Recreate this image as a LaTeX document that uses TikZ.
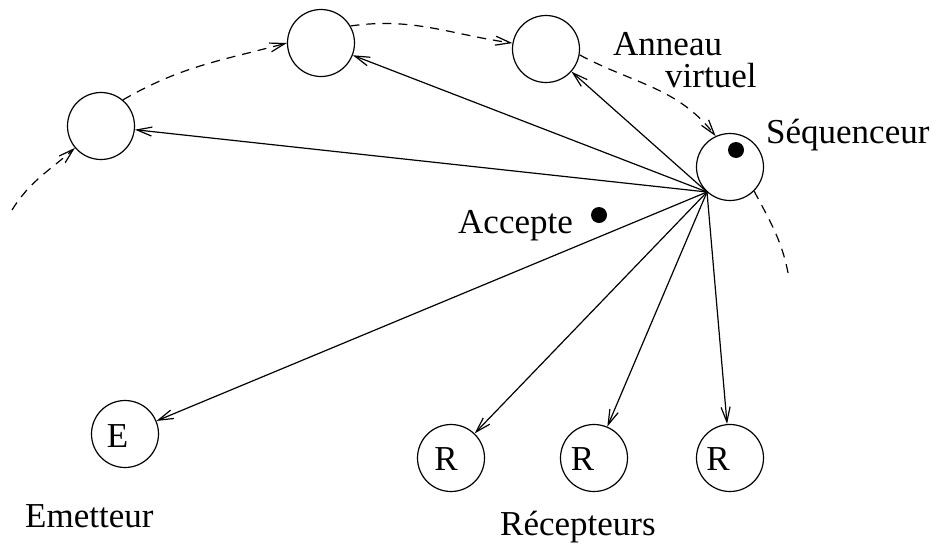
\documentclass[tikz,border=0pt]{standalone}
\usepackage{fontspec}
\setmainfont{Liberation Serif}
\usetikzlibrary{arrows.meta}
\begin{document}
\begin{tikzpicture}[x=1pt,y=1pt,
  site/.style={draw, circle, line width=1.2pt, minimum size=67pt, inner sep=0pt},
  lbl/.style={inner sep=0pt, anchor=base west, font=\fontsize{35}{37}\selectfont},
  letter/.style={inner sep=0pt, anchor=center, font=\fontsize{35}{37}\selectfont},
  tip/.style={-{Straight Barb[length=15pt,width=9pt,line width=1.2pt]}},
  msg/.style={tip, line width=1.2pt},
  ring/.style={tip, line width=1.2pt, dash pattern=on 9pt off 7pt},
  dot/.style={fill, circle, inner sep=0pt, minimum size=16pt}]
\useasboundingbox (0,0) rectangle (938,-544);

% ring members and sequencer
\node[site] (c1) at (101,-126) {};
\node[site] (c2) at (321,-43) {};
\node[site] (c3) at (546,-49) {};
\node[site] (seq) at (730,-167) {};
\node[dot] (seqdot) at (736,-150) {};

% emitter and receivers
\node[site] (em) at (125,-434) {};
\node[site] (r1) at (451,-458) {};
\node[site] (r2) at (594,-458) {};
\node[site] (r3) at (730,-458) {};
\node[letter] (emL) at (117.5,-436) {E};
\node[letter] (r1L) at (446,-459) {R};
\node[letter] (r2L) at (582.5,-459) {R};
\node[letter] (r3L) at (718,-459) {R};

% labels
\node[lbl] (emT) at (25,-527) {Emetteur};
\node[lbl] (rcT) at (500,-535) {Récepteurs};
\node[lbl] (acT) at (458,-233) {Accepte};
\node[dot] (acdot) at (599,-215) {};
\node[lbl] (anT) at (613,-55) {Anneau};
\node[lbl] (viT) at (665,-87) {virtuel};
\node[lbl] (sqT) at (766,-143) {Séquenceur};

% virtual ring (dashed)
\coordinate (r0) at (12,-210);
\coordinate (r5) at (789,-278);
\draw[ring] (r0) to[out=58,in=222] (c1.220);
\draw[ring] (c1.50) to[out=30,in=195] (c2.180);
\draw[ring] (c2.30) to[out=8,in=172] (c3.170);
\draw[ring] (c3.-10) to[out=-28,in=128] (seq.115);
\draw[ring, -] (seq.-45) to[out=-62,in=100] (r5);

% messages from the sequencer
\coordinate (hub) at (707,-192);
\foreach \t in {c1,c2,c3,em,r1,r2,r3}
  \draw[msg] (hub) -- (\t);
\end{tikzpicture}
\end{document}
